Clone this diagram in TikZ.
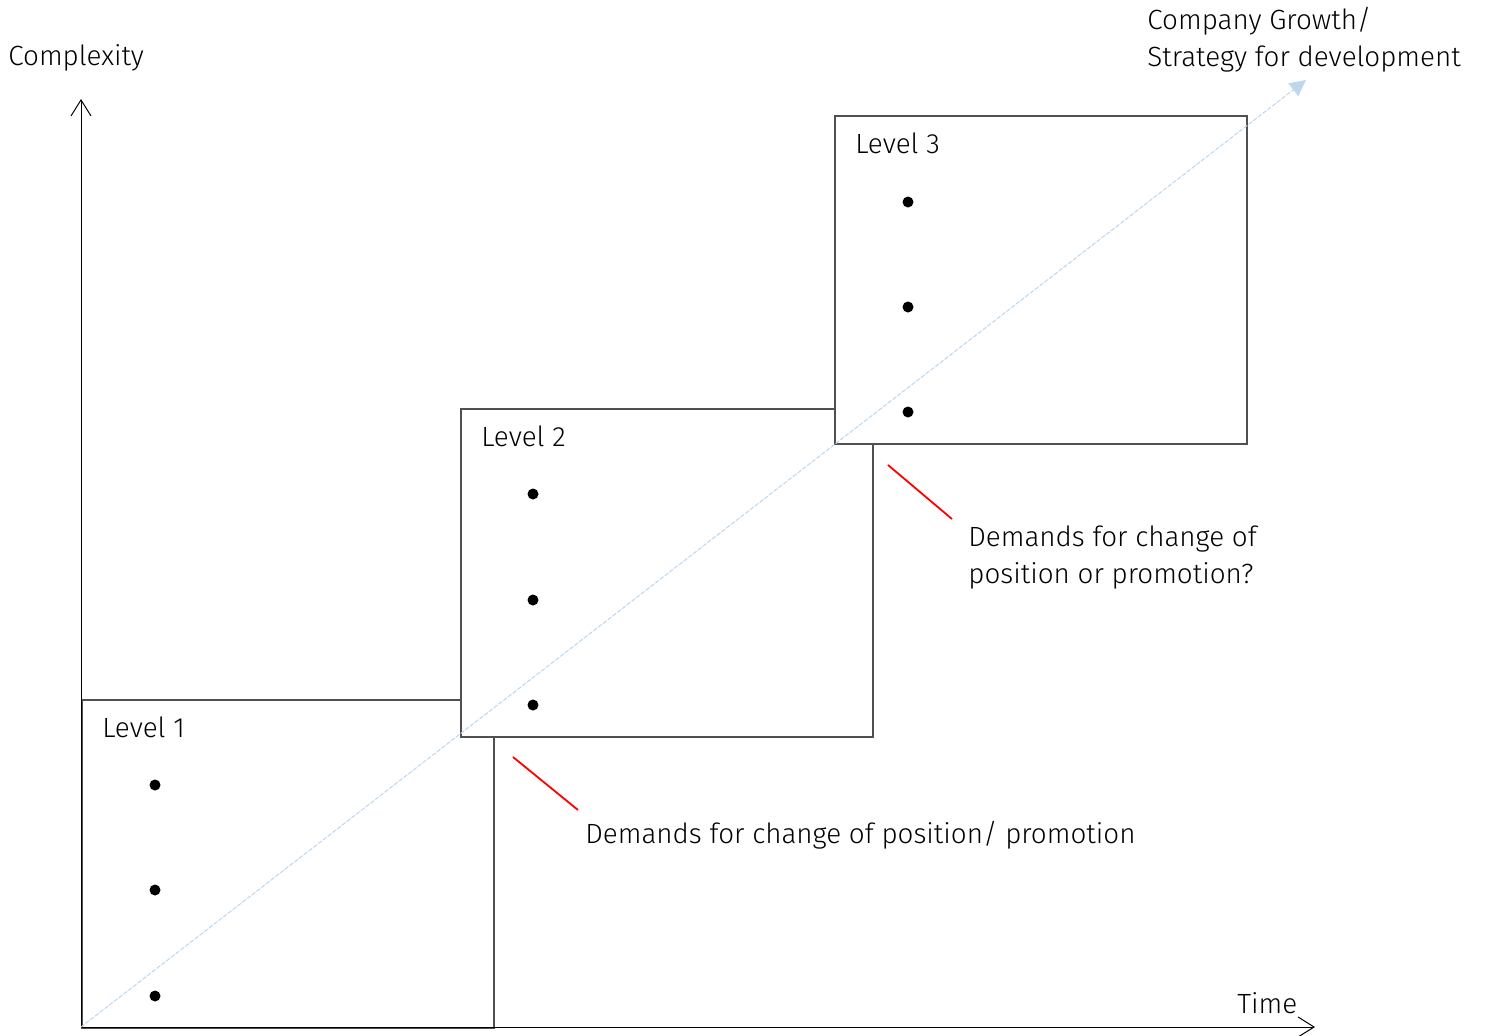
\documentclass[tikz,border=0pt]{standalone}
\usepackage{fontspec}
\setmainfont{Fira Sans}[UprightFont={* Light}]
\usetikzlibrary{arrows.meta,positioning}
\definecolor{growthblue}{HTML}{BDD7EE}
\definecolor{boxgray}{HTML}{505050}

\begin{document}
\begin{tikzpicture}[
  x=0.5pt, y=-0.5pt,
  font=\fontsize{13.9}{18.5}\selectfont,
  axis/.style={-{Straight Barb[length=8pt,width=10pt]}, line width=0.5pt, draw=black},
  levelbox/.style={
    draw=boxgray,
    fill=white,
    line width=0.75pt,
    minimum width=206pt,
    minimum height=164pt,
    inner sep=0pt,
    anchor=north west
  },
  levellabel/.style={anchor=north west, inner sep=0pt},
  dot/.style={circle, fill=black, inner sep=0pt, minimum size=5.5pt},
  growth/.style={
    -{Triangle[length=8pt,width=8pt]},
    draw=growthblue,
    fill=growthblue,
    line width=0.5pt,
    dash pattern=on 2pt off 1pt
  },
  marker/.style={draw=red, line width=0.9pt},
  note/.style={anchor=west, align=left, inner sep=0pt}
]
\useasboundingbox (0,0) rectangle (1490,1035);

% levels
\node[levelbox] (lvl1) at (81,699) {};
\node[levelbox] (lvl2) at (460,408) {};
\node[levelbox] (lvl3) at (834,115) {};

\node[levellabel, below right=8.5pt and 10.5pt of lvl1.north west] (lab1) {Level 1};
\node[levellabel, below right=8.5pt and 10.5pt of lvl2.north west] (lab2) {Level 2};
\node[levellabel, below right=8.5pt and 10.5pt of lvl3.north west] (lab3) {Level 3};

% axes
\coordinate (origin) at (81,1027);
\coordinate (ytip) at (81,99);
\coordinate (xtip) at (1315,1027);
\draw[axis] (origin) -- (ytip);
\draw[axis] (origin) -- (xtip);
\node[note] (ylab) at (8,58) {Complexity};
\node[note] (xlab) at (1237,1003) {Time};

% growth line
\coordinate (gtip) at (1306,80);
\draw[growth] (origin) -- (gtip);
\node[note] (glab) at (1147,40) {Company Growth/\\Strategy for development};

% bullets
\node[dot] (d11) at (155,785) {};
\node[dot] (d12) at (155,890) {};
\node[dot] (d13) at (155,996) {};
\node[dot] (d21) at (533,494) {};
\node[dot] (d22) at (533,600) {};
\node[dot] (d23) at (533,705) {};
\node[dot] (d31) at (908,202) {};
\node[dot] (d32) at (908,307) {};
\node[dot] (d33) at (908,412) {};

% demands
\coordinate (m1a) at (513,757);
\coordinate (m1b) at (578,810);
\draw[marker] (m1a) -- (m1b);
\node[note] (dem1) at (585,835) {Demands for change of position/ promotion};

\coordinate (m2a) at (888,465);
\coordinate (m2b) at (952,519);
\draw[marker] (m2a) -- (m2b);
\node[note] (dem2) at (968,558) {Demands for change of\\position or promotion?};

\end{tikzpicture}
\end{document}
